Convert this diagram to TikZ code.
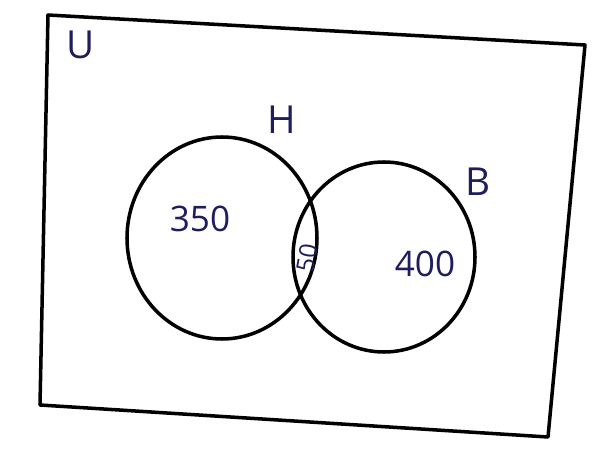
\documentclass[tikz,border=0pt]{standalone}
\usepackage{fontspec}
\setmainfont{Open Sans}
\usepackage{xcolor}
\usetikzlibrary{shapes.geometric}
\definecolor{ink}{RGB}{30,30,95}

\begin{document}
\begin{tikzpicture}[every node/.style={font=\fontsize{22}{26}\selectfont, text=ink}]
\tikzstyle{setcirc}=[draw=black, line width=2pt, ellipse, inner sep=0pt]
\tikzstyle{count}=[font=\fontsize{20}{24}\selectfont]
\useasboundingbox (0,0) rectangle (11.92,9);
% universe
\coordinate (tl) at (0.96,8.7);
\coordinate (tr) at (11.7,8.1);
\coordinate (br) at (10.96,0.26);
\coordinate (bl) at (0.8,0.9);
\draw[line width=2pt, line join=round] (tl) -- (tr) -- (br) -- (bl) -- cycle;
\node (lblU) at (1.62,8.1) {U};
% sets
\node[setcirc, minimum width=3.8cm, minimum height=4.04cm] (H) at (4.44,4.24) {};
\node[setcirc, minimum width=3.64cm, minimum height=3.8cm] (B) at (7.68,3.86) {};
\node (lblH) at (5.64,6.6) {H};
\node (lblB) at (9.56,5.36) {B};
% counts
\node[count] (onlyH) at (4.0,4.62) {350};
\node[count] (onlyB) at (8.5,3.72) {400};
\node[count, font=\fontsize{14}{16}\selectfont, inner sep=0pt, rotate=80] (both) at (6.14,3.84) {50};
\end{tikzpicture}
\end{document}
